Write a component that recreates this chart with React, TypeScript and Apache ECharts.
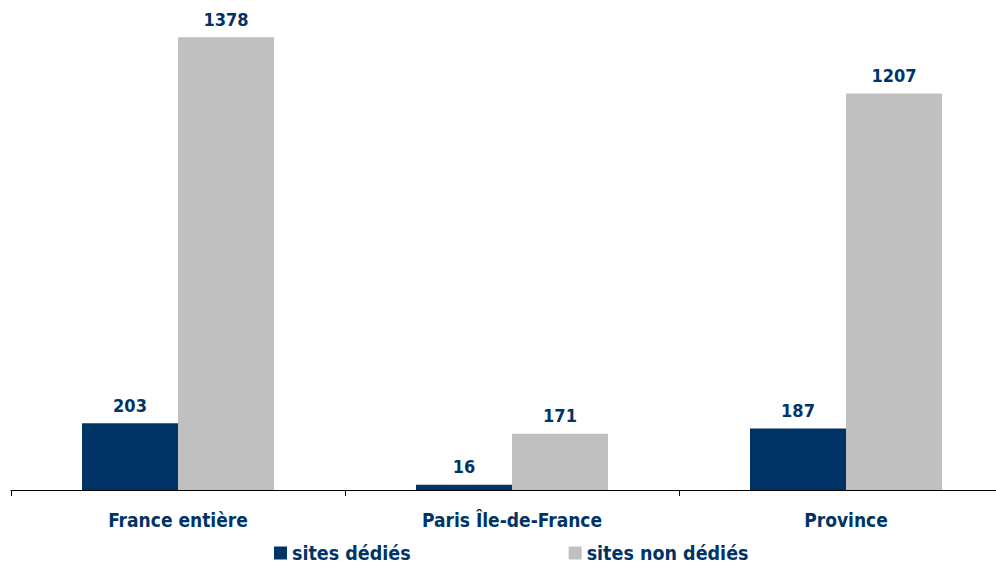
import React, { useEffect, useRef } from "react";
import * as echarts from "echarts";

const categories = ["France entière", "Paris Île-de-France", "Province"];
const dedicated = [203, 16, 187];
const nonDedicated = [1378, 171, 1207];
const seriesNames = ["sites dédiés", "sites non dédiés"];

const NAVY = "#003366";
const GREY = "#C0C0C0";
const FONT = "'DejaVu Sans Condensed', 'DejaVu Sans', sans-serif";

export default function App() {
  const ref = useRef<HTMLDivElement>(null);
  useEffect(() => {
    if (!ref.current) return;
    const chart = echarts.init(ref.current, null, { renderer: "svg" });
    const label = {
      show: true,
      position: "top",
      distance: 9,
      color: NAVY,
      fontFamily: FONT,
      fontWeight: "bold",
      fontSize: 18,
    };
    chart.setOption({
      animation: false,
      backgroundColor: "#ffffff",
      grid: { left: 11, right: 0, top: 30, bottom: 74, containLabel: false },
      legend: {
        left: 274,
        top: 543,
        padding: 0,
        itemWidth: 13,
        itemHeight: 13,
        itemGap: 158,
        icon: "rect",
        textStyle: { color: NAVY, fontFamily: FONT, fontWeight: "bold", fontSize: 19.5, lineHeight: 16 },
        data: seriesNames,
      },
      xAxis: {
        type: "category",
        data: categories,
        axisLine: { lineStyle: { color: "#000", width: 1 } },
        axisTick: { show: true, length: 6, lineStyle: { color: "#000" } },
        axisLabel: { color: NAVY, fontFamily: FONT, fontWeight: "bold", fontSize: 19, margin: 20 },
      },
      yAxis: {
        type: "value",
        min: 0,
        max: 1400,
        show: false,
        splitLine: { show: false },
      },
      series: [
        {
          name: seriesNames[0],
          type: "bar",
          data: dedicated,
          barWidth: 96,
          barGap: "0%",
          itemStyle: { color: NAVY },
          label,
        },
        {
          name: seriesNames[1],
          type: "bar",
          data: nonDedicated,
          barWidth: 96,
          barGap: "0%",
          itemStyle: { color: GREY },
          label,
        },
      ],
    });
    return () => chart.dispose();
  }, []);
  return (
    <div style={{ position: "absolute", left: 0, top: 0, width: 996, height: 564, overflow: "hidden" }}>
      <div ref={ref} style={{ width: 1013, height: 564 }} />
    </div>
  );
}
